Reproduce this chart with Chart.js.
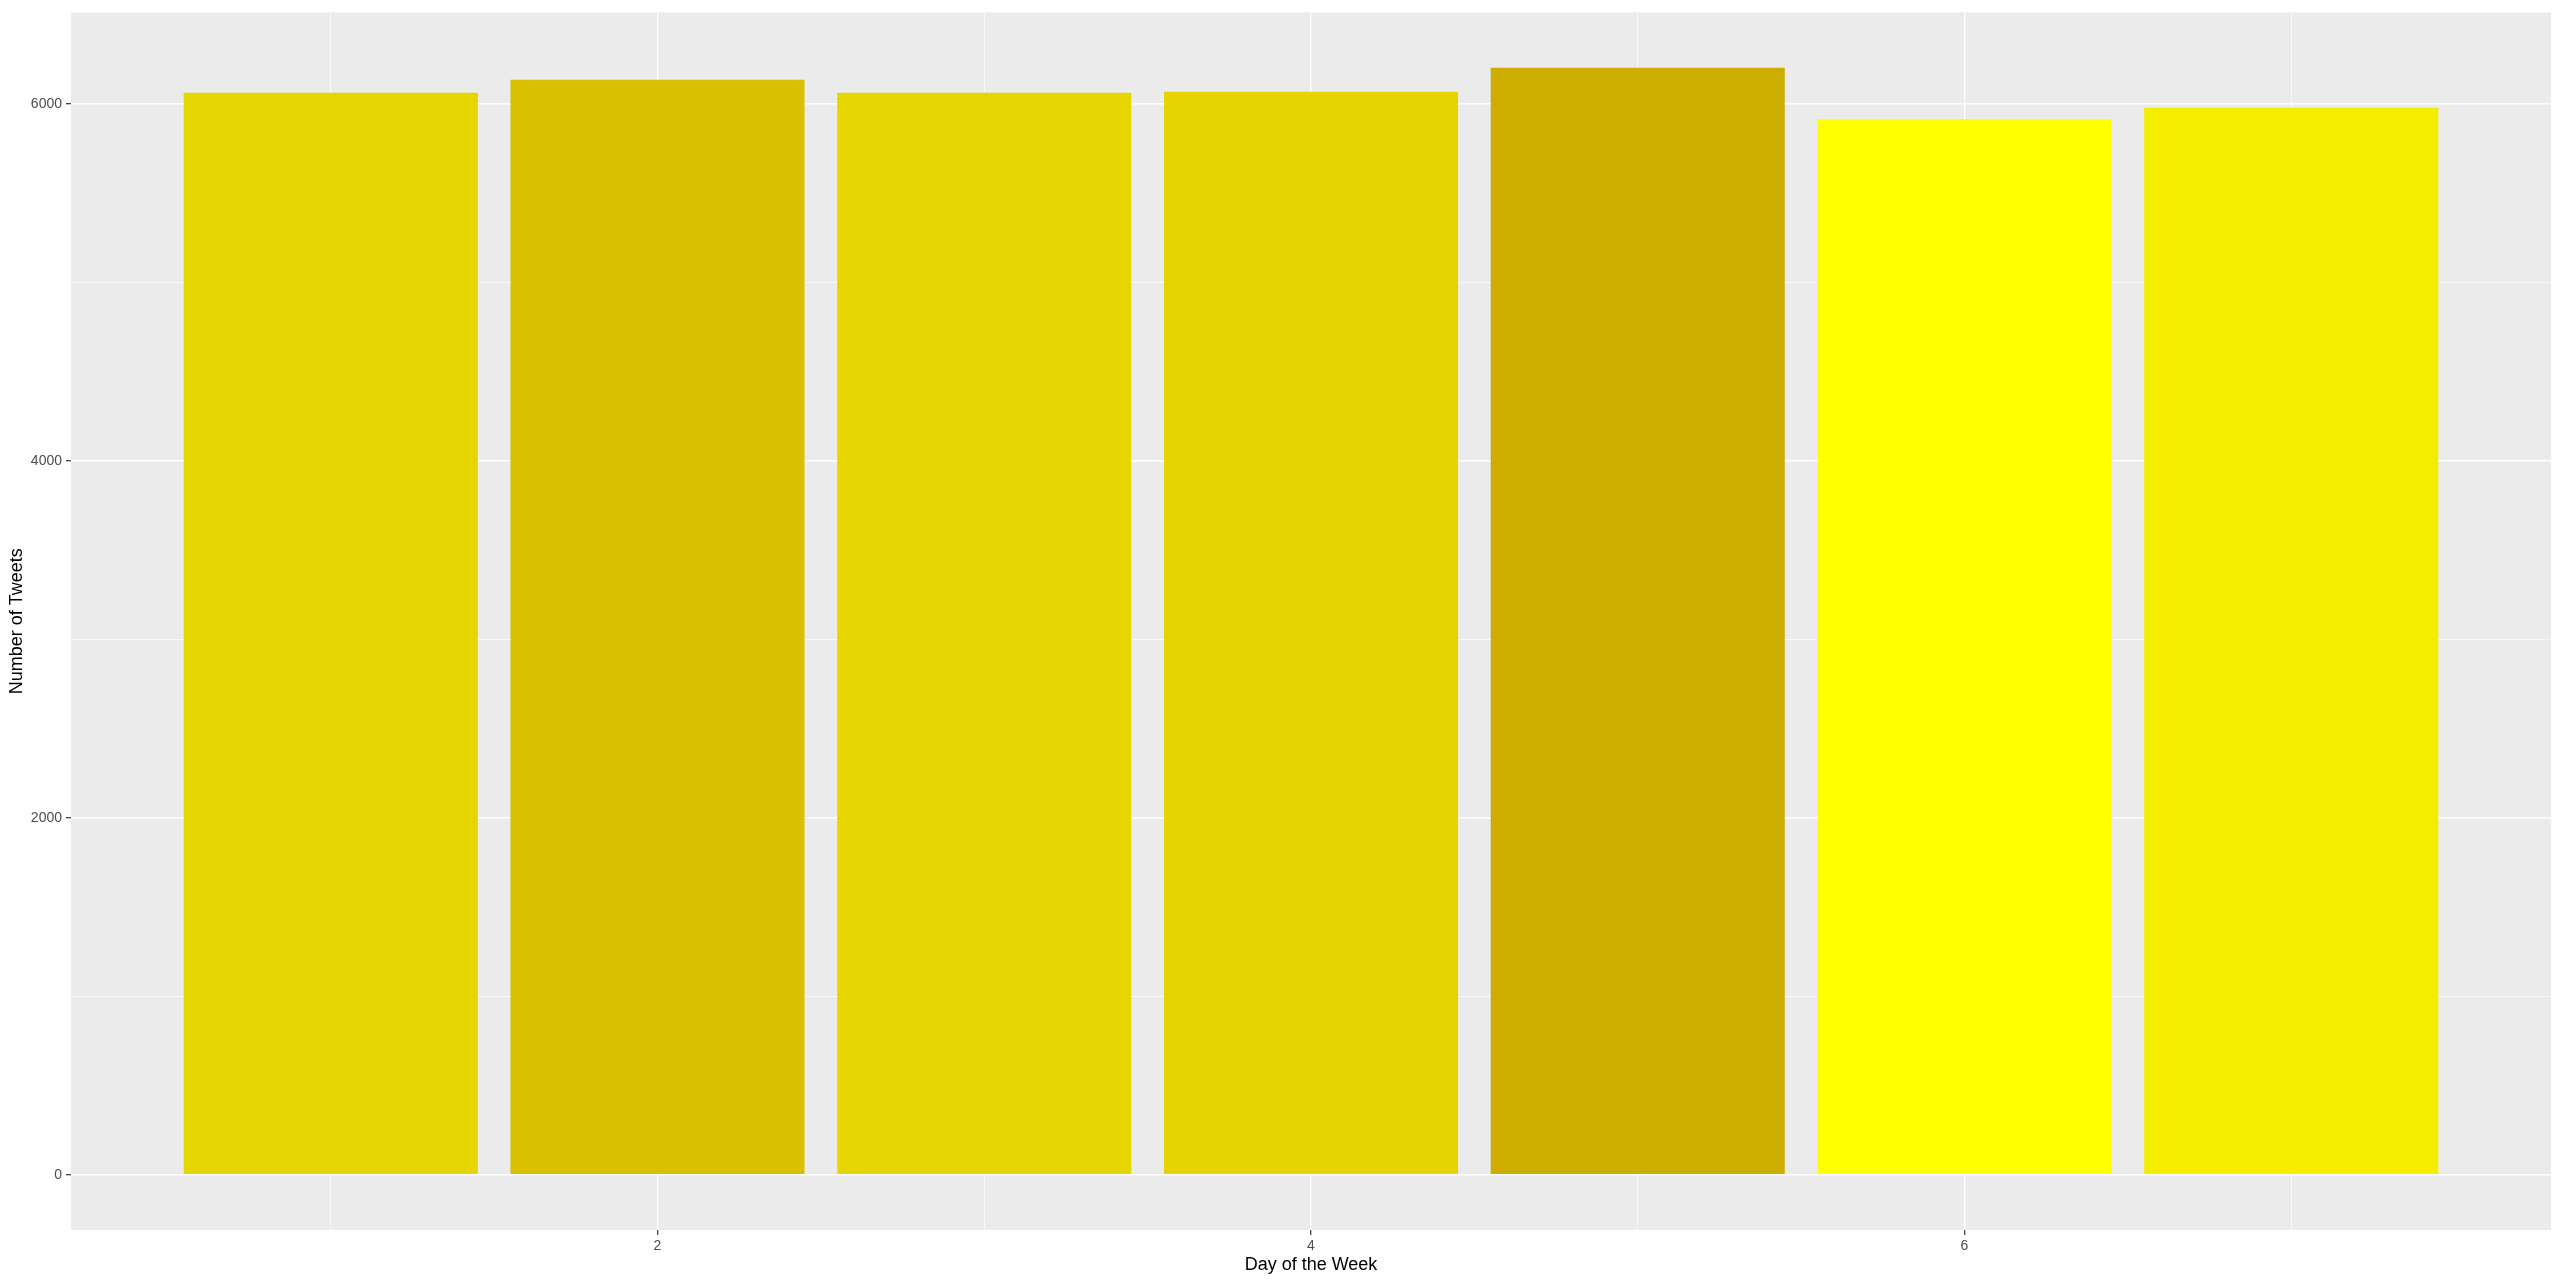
<!DOCTYPE html>
<html>
<head>
<meta charset="utf-8">
<script src="https://cdn.jsdelivr.net/npm/chart.js@4.4.1/dist/chart.umd.min.js"></script>
<style>
  html, body { margin: 0; padding: 0; background: #ffffff; }
  canvas { display: block; }
</style>
</head>
<body>
<canvas id="c" width="2560" height="1285"></canvas>
<script>
// ---- data ----
const days = [1, 2, 3, 4, 5, 6, 7];
const tweets = [6063, 6136, 6063, 6068, 6203, 5916, 5979];
const xTickLabels = [2, 4, 6];
const yTickLabels = [0, 2000, 4000, 6000];
const xGridValues = [1, 2, 3, 4, 5, 6, 7];
const yGridValues = [0, 1000, 2000, 3000, 4000, 5000, 6000];

// ---- fill gradient (low -> high), like scale_fill_gradient ----
const lowCol = [255, 255, 0];
const highCol = [205, 173, 0];
const vMin = Math.min(...tweets), vMax = Math.max(...tweets);
function fillFor(v) {
  const t = (v - vMin) / (vMax - vMin);
  const c = lowCol.map((l, i) => Math.round(l + (highCol[i] - l) * t));
  return `rgb(${c[0]},${c[1]},${c[2]})`;
}

// ggplot-like expanded limits
const xMin = 0.55 - 6.9 * 0.05, xMax = 7.45 + 6.9 * 0.05;
const yPad = vMax * 0.05;
const yMin = -yPad, yMax = vMax + yPad;

const isMajor = (c, list) => !!(c && c.tick && list.includes(c.tick.value));

const panelBg = {
  id: 'panelBg',
  beforeDraw(chart) {
    const { ctx, chartArea: a } = chart;
    ctx.save();
    ctx.fillStyle = '#EBEBEB';
    ctx.fillRect(a.left, a.top, a.right - a.left, a.bottom - a.top);
    ctx.restore();
  }
};

const FONT = "'Liberation Sans', Arial, sans-serif";

new Chart(document.getElementById('c'), {
  type: 'bar',
  data: {
    datasets: [{
      data: days.map((d, i) => ({ x: d, y: tweets[i] })),
      backgroundColor: tweets.map(fillFor),
      borderWidth: 0,
      barPercentage: 0.9,
      categoryPercentage: 1.0
    }]
  },
  options: {
    responsive: false,
    animation: false,
    devicePixelRatio: 1,
    layout: { padding: { left: 0, top: 9, right: 9, bottom: 0 } },
    plugins: { legend: { display: false }, tooltip: { enabled: false } },
    scales: {
      x: {
        type: 'linear',
        min: xMin, max: xMax,
        offset: false,
        afterBuildTicks(s) { s.ticks = xGridValues.map(v => ({ value: v })); },
        afterFit(s) { s.height = 55; },
        border: { display: false },
        grid: {
          offset: false,
          color: '#FFFFFF',
          lineWidth: c => (isMajor(c, xTickLabels) ? 1.4 : 0.7),
          drawTicks: true,
          tickLength: 5,
          tickWidth: 1.2,
          tickColor: c => (isMajor(c, xTickLabels) ? '#333333' : 'rgba(0,0,0,0)')
        },
        ticks: {
          autoSkip: false,
          maxRotation: 0,
          padding: 3,
          color: '#4D4D4D',
          font: { family: FONT, size: 14 },
          callback: v => (xTickLabels.includes(v) ? String(v) : '')
        },
        title: {
          display: true,
          text: 'Day of the Week',
          color: '#000000',
          font: { family: FONT, size: 18 },
          padding: { top: 0, bottom: 9 }
        }
      },
      y: {
        type: 'linear',
        min: yMin, max: yMax,
        afterBuildTicks(s) { s.ticks = yGridValues.map(v => ({ value: v })); },
        afterFit(s) { s.width = 71; },
        border: { display: false },
        grid: {
          color: '#FFFFFF',
          lineWidth: c => (isMajor(c, yTickLabels) ? 1.4 : 0.7),
          drawTicks: true,
          tickLength: 5,
          tickWidth: 1.2,
          tickColor: c => (isMajor(c, yTickLabels) ? '#333333' : 'rgba(0,0,0,0)')
        },
        ticks: {
          autoSkip: false,
          padding: 4,
          color: '#4D4D4D',
          font: { family: FONT, size: 14 },
          callback: v => (yTickLabels.includes(v) ? String(v) : '')
        },
        title: {
          display: true,
          text: 'Number of Tweets',
          color: '#000000',
          font: { family: FONT, size: 18 },
          padding: { top: 6, bottom: 0 }
        }
      }
    }
  },
  plugins: [panelBg]
});
</script>
</body>
</html>
